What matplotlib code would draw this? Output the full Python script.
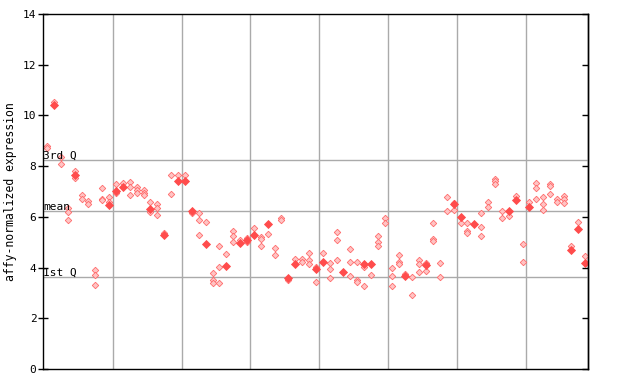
import matplotlib
matplotlib.use('Agg')
import matplotlib.pyplot as plt

""" ------------------------------------------------------------- """
# hatched (light) points: sample index, value
open_x = [0, 0, 1, 2, 2, 3, 3, 3, 4, 4, 5, 5, 6, 6, 7, 7, 7, 8, 8, 8, 9, 9,
          10, 10, 11, 12, 12, 12, 13, 13, 13, 14, 14, 14, 15, 15, 16, 16, 16,
          17, 18, 18, 19, 20, 21, 22, 22, 22, 23, 24, 24, 24, 25, 25, 25, 26,
          27, 27, 27, 28, 29, 29, 30, 31, 31, 31, 32, 33, 33, 34, 34, 35, 36,
          37, 37, 38, 38, 38, 39, 39, 40, 41, 41, 41, 42, 42, 42, 44, 44, 44,
          45, 45, 45, 46, 46, 47, 48, 48, 48, 49, 49, 50, 50, 50, 51, 51, 51,
          52, 53, 53, 54, 54, 54, 55, 55, 56, 56, 56, 57, 57, 58, 58, 59, 59,
          60, 61, 61, 61, 63, 63, 63, 64, 64, 65, 65, 65, 66, 66, 67, 68, 69,
          69, 70, 71, 71, 71, 72, 72, 72, 73, 73, 73, 74, 74, 75, 75, 75, 76,
          77, 78]
open_y = [8.8, 8.7, 10.55, 8.35, 8.1, 6.35, 6.2, 5.88, 7.8, 7.55, 6.85, 6.7,
          6.64, 6.51, 3.9, 3.72, 3.3, 7.12, 6.72, 6.65, 6.77, 6.58,
          7.3, 6.95, 7.32, 7.39, 7.16, 6.85, 7.16, 7.05, 6.93, 7.06, 6.95, 6.85,
          6.59, 6.19, 6.51, 6.35, 6.06,
          5.38, 7.67, 6.9, 7.67, 7.67, 6.14, 6.14, 5.86, 5.27, 5.78, 3.77, 3.51,
          3.38, 4.85, 4.01, 3.39, 4.53,
          5.44, 5.24, 4.99, 5.09, 5.17, 4.99, 5.55, 5.22, 5.13, 4.85, 5.34,
          4.76, 4.48, 5.95, 5.87, 3.51, 4.32,
          4.32, 4.23, 4.56, 4.3, 4.14, 4.01, 3.42, 4.56, 4.17, 3.93, 3.58, 5.39,
          5.07, 4.28, 4.72, 4.24, 3.65,
          4.22, 3.51, 3.43, 4.01, 3.26, 3.71, 5.24, 5.01, 4.84, 5.97, 5.74, 3.97,
          3.65, 3.26, 4.48, 4.22, 4.15,
          3.73, 3.62, 2.91, 4.3, 4.14, 3.81, 4.18, 3.86, 5.74, 5.14, 5.06, 4.17,
          3.62, 6.77, 6.22, 6.56, 6.26,
          5.74, 5.74, 5.44, 5.35, 6.14, 5.6, 5.24, 6.59, 6.39, 7.48, 7.4, 7.31,
          6.22, 5.94, 6.02, 6.82, 4.92,
          4.21, 6.6, 7.33, 7.12, 6.69, 6.77, 6.49, 6.28, 7.3, 7.22, 6.89, 6.7,
          6.59, 6.82, 6.69, 6.56, 4.85,
          5.78, 4.44]

# solid points: sample index, value
solid_x = [1, 4, 9, 10, 11, 15, 17, 19, 20, 21, 23, 26, 28, 29, 30, 32, 35,
           36, 39, 40, 43, 46, 47, 52, 55, 59, 60, 62, 67, 68, 70, 76, 77, 78]
solid_y = [10.42, 7.65, 6.47, 7.03, 7.16, 6.3, 5.3, 7.42, 7.42, 6.25, 4.93,
           4.07, 4.97, 5.1, 5.28, 5.72, 3.6, 4.14, 3.93, 4.23, 3.84, 4.13, 4.13,
           3.65, 4.11, 6.49, 6.01, 5.72, 6.22, 6.68, 6.39, 4.69, 5.53, 4.19]

group_edges = [9.5, 19.5, 29.5, 39.5, 49.5, 59.5, 69.5]
ref_names = ['3rd Q', 'mean', '1st Q']
ref_values = [8.24, 6.22, 3.62]
yticks = [0, 2, 4, 6, 8, 10, 12, 14]
""" ------------------------------------------------------------- """

plt.rcParams['font.family'] = 'DejaVu Sans Mono'

fig = plt.figure(figsize=(6.4, 3.84), dpi=100)
ax = fig.add_axes([0.0672, 0.039, 0.8516, 0.9245])

for xe in group_edges:
    ax.axvline(xe, color='#aaaaaa', lw=1, zorder=1)
for name, val in zip(ref_names, ref_values):
    ax.axhline(val, color='#aaaaaa', lw=1, zorder=1)
    ax.text(-0.55, val - 0.03, name, fontsize=8, va='bottom', ha='left',
            zorder=3)

ax.plot(open_x, open_y, 'D', ms=3.3, mfc='#ffc4c4', mec='#ff6a6a', mew=0.6,
        ls='none', zorder=2)
ax.plot(solid_x, solid_y, 'D', ms=3.6, mfc='#ff4c4c', mec='#ff4c4c', mew=0.6,
        ls='none', zorder=2)

ax.set_xlim(-0.6, 78.5)
ax.set_ylim(0, 14)
ax.set_xticks([])
ax.set_yticks(yticks)
ax.tick_params(axis='y', direction='inout', length=7.5, width=1, labelsize=8,
               pad=1)
rax = ax.secondary_yaxis('right')
rax.set_yticks(yticks)
rax.tick_params(direction='in', length=4.5, width=1, labelright=False)
for s in ax.spines.values():
    s.set_linewidth(1)
rax.spines['right'].set_linewidth(1)
ax.set_ylabel('affy-normalized expression', fontsize=8.3, labelpad=4)

fig.savefig('out.png', dpi=100)
